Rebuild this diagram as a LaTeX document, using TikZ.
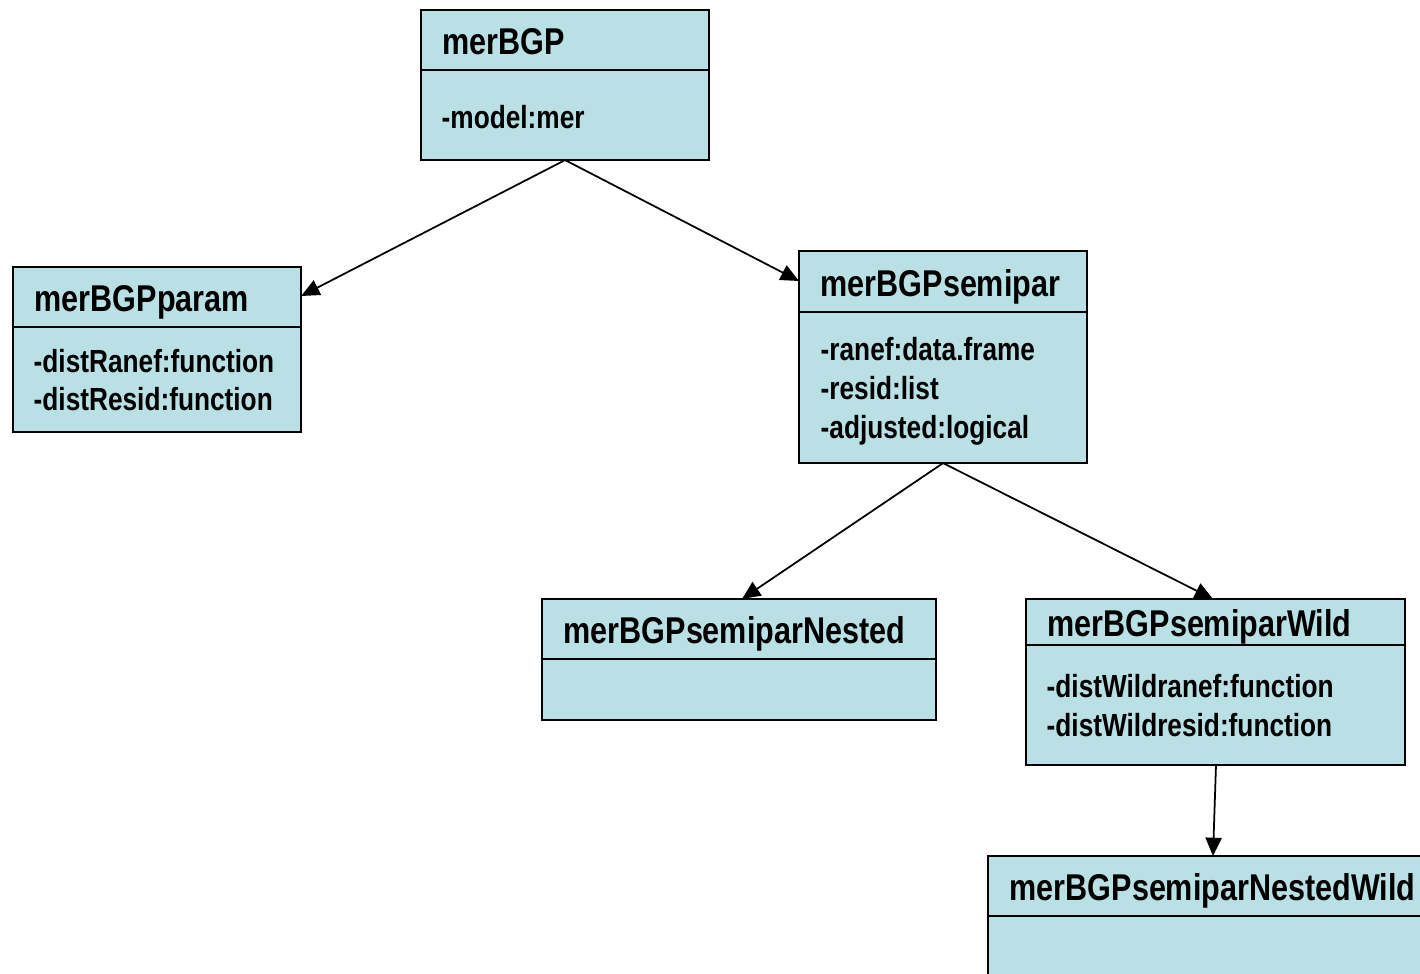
\documentclass[tikz,border=0pt]{standalone}
\usepackage{fontspec}
\setmainfont[FakeStretch=0.82]{Liberation Sans}
\usetikzlibrary{arrows.meta,calc}
\definecolor{classfill}{RGB}{185,224,228}
\tikzset{
  classbox/.style={draw=black, line width=0.6pt, fill=classfill, rectangle, inner sep=0pt, outer sep=0pt},
  divider/.style={draw=black, line width=0.6pt},
  classtitle/.style={anchor=base west, inner sep=0pt, font=\bfseries\fontsize{10.6}{12}\selectfont},
  attr/.style={anchor=base west, inner sep=0pt, font=\bfseries\fontsize{9.1}{11}\selectfont},
  inherit/.style={draw=black, line width=0.5pt, -{Triangle[length=5.2pt,width=4.6pt]}}
}
\begin{document}
\begin{tikzpicture}[x=0.01cm, y=-0.01cm]
\useasboundingbox (0,0) rectangle (1420,974);
\clip (0,0) rectangle (1420,974);

% merBGP
\node[classbox, anchor=north west, minimum width=2.88cm, minimum height=1.50cm] (bgp) at (421,10) {};
\draw[divider] (421,70) -- (709,70);
\node[classtitle] (bgpT) at (442,55) {merBGP};
\node[attr] (bgpA) at (441,129) {-model:mer};

% merBGPparam
\node[classbox, anchor=north west, minimum width=2.88cm, minimum height=1.65cm] (param) at (13,267) {};
\draw[divider] (13,327) -- (301,327);
\node[classtitle] (paramT) at (34,312) {merBGPparam};
\node[attr] (paramA1) at (33,373) {-distRanef:function};
\node[attr] (paramA2) at (33,411) {-distResid:function};

% merBGPsemipar
\node[classbox, anchor=north west, minimum width=2.88cm, minimum height=2.12cm] (semi) at (799,251) {};
\draw[divider] (799,312) -- (1087,312);
\node[classtitle] (semiT) at (820,297) {merBGPsemipar};
\node[attr] (semiA1) at (820,361) {-ranef:data.frame};
\node[attr] (semiA2) at (820,400) {-resid:list};
\node[attr] (semiA3) at (820,439) {-adjusted:logical};

% merBGPsemiparNested
\node[classbox, anchor=north west, minimum width=3.94cm, minimum height=1.21cm] (nest) at (542,599) {};
\draw[divider] (542,659) -- (936,659);
\node[classtitle] (nestT) at (563,644) {merBGPsemiparNested};

% merBGPsemiparWild
\node[classbox, anchor=north west, minimum width=3.79cm, minimum height=1.66cm] (wild) at (1026,599) {};
\draw[divider] (1026,645) -- (1405,645);
\node[classtitle] (wildT) at (1047,637) {merBGPsemiparWild};
\node[attr] (wildA1) at (1046,698) {-distWildranef:function};
\node[attr] (wildA2) at (1046,737) {-distWildresid:function};

% merBGPsemiparNestedWild (runs past the page edge)
\node[classbox, anchor=north west, minimum width=4.60cm, minimum height=1.60cm] (nwild) at (988,856) {};
\draw[divider] (988,916) -- (1440,916);
\node[classtitle] (nwildT) at (1009,901) {merBGPsemiparNestedWild};

% inheritance arrows
\coordinate (paramIn) at ($(param.north east)+(0,29)$);
\coordinate (semiIn) at ($(semi.north west)+(0,30)$);
\draw[inherit] (bgp.south) -- (paramIn);
\draw[inherit] (bgp.south) -- (semiIn);
\draw[inherit] (semi.south) -- ($(nest.north west)+(200,0)$);
\draw[inherit] (semi.south) -- ($(wild.north west)+(187,0)$);
\draw[inherit] ($(wild.south west)+(190,0)$) -- ($(nwild.north west)+(225,0)$);
\end{tikzpicture}
\end{document}
